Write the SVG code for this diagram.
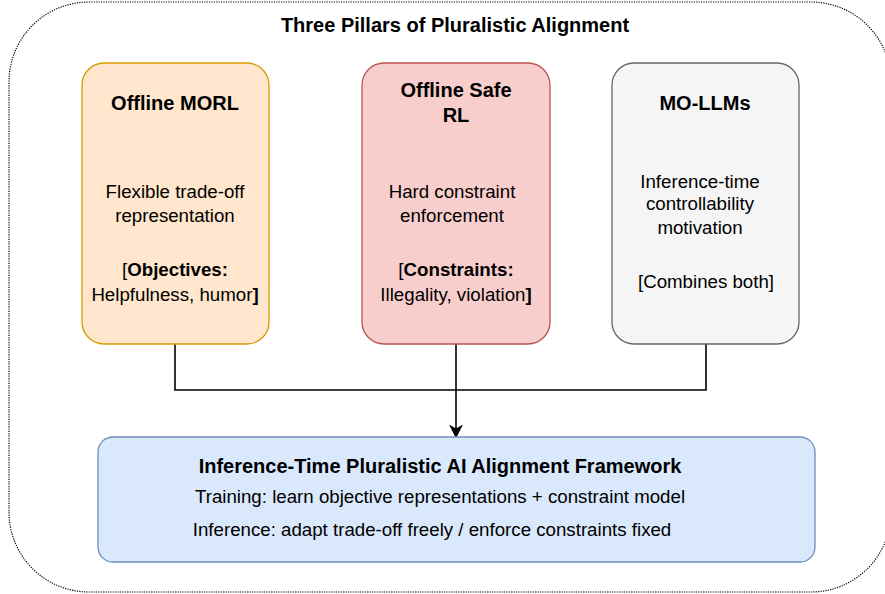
<svg xmlns="http://www.w3.org/2000/svg" width="885" height="594" viewBox="0 0 885 594">
<style>
text{font-family:"Liberation Sans",Arial,sans-serif;fill:#000;text-anchor:middle}
.t{font-size:20px;font-weight:bold}
.b{font-size:18.7px}
.h{font-size:20px;font-weight:bold}
.box{stroke-width:1.3}
.edge{fill:none;stroke:#000;stroke-width:1.6}
</style>
<defs>
<marker id="arr" viewBox="0 0 10 10" refX="9" refY="5" markerWidth="14" markerHeight="14" markerUnits="userSpaceOnUse" orient="auto">
<path d="M0,0 L10,5 L0,10 L3,5 Z" fill="#000"/>
</marker>
</defs>
<g id="container">
<rect x="9" y="2" width="882" height="590" rx="80" ry="80" fill="#fff" stroke="#000" stroke-width="1.2" stroke-dasharray="1.2 1.2"/>
<text class="h" x="455" y="32">Three Pillars of Pluralistic Alignment</text>
</g>
<g id="connectors">
<polyline class="edge" points="175,344 175,390 706,390 706,344"/>
<line class="edge" x1="456" y1="344" x2="456" y2="437" marker-end="url(#arr)"/>
</g>
<g id="morl">
<rect class="box" x="82" y="63" width="187" height="281" rx="22" fill="#ffe6cc" stroke="#d79b00"/>
<text class="t" x="175" y="110">Offline MORL</text>
<text class="b" x="175" y="198">Flexible trade-off</text>
<text class="b" x="175" y="222">representation</text>
<text class="b" x="175" y="276">[<tspan font-weight="bold">Objectives:</tspan></text>
<text class="b" x="175" y="301">Helpfulness, humor<tspan font-weight="bold">]</tspan></text>
</g>
<g id="saferl">
<rect class="box" x="362" y="63" width="188" height="281" rx="22" fill="#f8cecc" stroke="#b85450"/>
<text class="t" x="456" y="97">Offline Safe</text>
<text class="t" x="456" y="122">RL</text>
<text class="b" x="452" y="198">Hard constraint</text>
<text class="b" x="452" y="222">enforcement</text>
<text class="b" x="456" y="276">[<tspan font-weight="bold">Constraints:</tspan></text>
<text class="b" x="456" y="301">Illegality, violation<tspan font-weight="bold">]</tspan></text>
</g>
<g id="mollms">
<rect class="box" x="612" y="63" width="187" height="281" rx="22" fill="#f5f5f5" stroke="#666666"/>
<text class="t" x="705" y="110">MO-LLMs</text>
<text class="b" x="700" y="188">Inference-time</text>
<text class="b" x="700" y="210">controllability</text>
<text class="b" x="700" y="234">motivation</text>
<text class="b" x="706" y="288">[Combines both]</text>
</g>
<g id="framework">
<rect class="box" x="98" y="437" width="717" height="125" rx="15" fill="#dae8fc" stroke="#6c8ebf"/>
<text class="t" x="440" y="473">Inference-Time Pluralistic AI Alignment Framework</text>
<text class="b" x="440" y="503">Training: learn objective representations + constraint model</text>
<text class="b" x="432" y="536">Inference: adapt trade-off freely / enforce constraints fixed</text>
</g>
</svg>
